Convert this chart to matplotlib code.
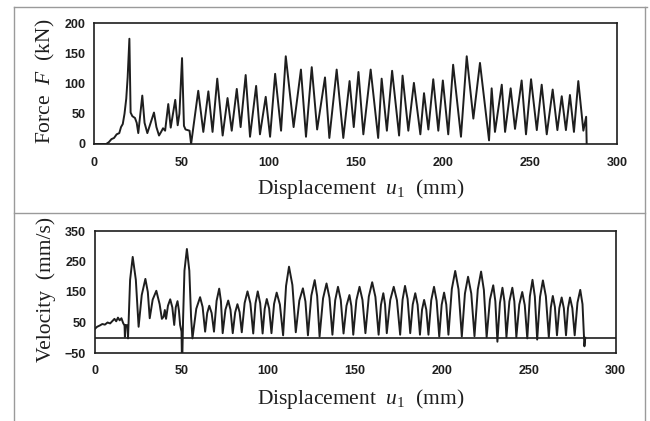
import matplotlib
matplotlib.use("Agg")
import matplotlib.pyplot as plt
from matplotlib.lines import Line2D

plt.rcParams['mathtext.fontset'] = 'custom'
plt.rcParams['mathtext.rm'] = 'Liberation Serif'
plt.rcParams['mathtext.it'] = 'Liberation Serif:italic'

# force history (displacement mm, force kN)
force_u = [0, 7, 8.5, 10, 11.5, 13, 14.5, 15.5, 16.5, 17.5, 18.5, 19.3, 20.3, 21.0,
           22.0, 23.5, 24.5, 25.4, 27.7, 29.0, 30.6, 32.5, 34.4, 35.8, 37.3, 38.5,
           39.6, 40.8, 42.6, 44.0, 46.6, 48.0, 49.0, 50.5, 51.6, 52.5, 54.8, 55.7,
           59.8, 62.7, 65.6, 68.0, 70.7, 73.8, 76.6, 79.0, 81.9, 84.1, 87.0, 89.5,
           93.0, 95.2, 98.5, 101.0, 103.9, 107.3, 110.0, 114.5, 118.7, 121.6, 124.9,
           128.0, 132.5, 135.0, 139.2, 143.0, 146.6, 149.0, 151.7, 154.5, 158.7,
           163.0, 165.0, 168.0, 171.0, 175.0, 177.0, 180.3, 183.5, 187.2, 189.3,
           191.8, 194.6, 197.5, 200.1, 203.2, 206.0, 210.5, 213.8, 217.6, 221.4,
           226.6, 228.1, 230.0, 233.9, 235.8, 239.0, 241.5, 245.3, 247.8, 250.7,
           254.0, 256.8, 259.7, 263.1, 265.8, 268.3, 270.7, 273.0, 275.3, 277.8,
           280.7, 282.3, 282.6]
force_kn = [0, 0, 3, 8, 10, 16, 18, 28, 33, 50, 75, 110, 174, 52,
            46, 43, 35, 18, 80, 35, 18, 35, 52, 28, 14, 20,
            26, 22, 66, 27, 73, 31, 50, 142, 30, 24, 22, 0,
            88, 20, 87, 20, 108, 14, 76, 22, 91, 28, 114, 12,
            96, 16, 78, 12, 116, 22, 145, 28, 123, 12, 127,
            24, 110, 10, 123, 10, 104, 28, 119, 16, 123,
            10, 108, 22, 121, 14, 113, 22, 101, 16, 84,
            24, 107, 22, 105, 16, 131, 12, 145, 42, 134,
            6, 92, 20, 98, 20, 92, 25, 105, 16, 107,
            23, 98, 16, 90, 23, 79, 23, 81, 20, 104,
            22, 45, 0]

# velocity history (displacement mm, velocity mm/s)
vel_u = [0, 1.5, 3, 4.5, 6, 7.5, 9, 10.5, 11.5, 12.5, 13.5, 14.5, 15.5, 16.5, 17.3,
         17.5, 18.0, 19.0, 19.3, 20.5, 22.0, 23.8, 25.4, 27.2, 29.3, 30.7, 31.8,
         33.5, 35.6, 37.5, 38.8, 39.8, 40.5, 41.2, 42.3, 43.6, 44.8, 45.9, 46.8,
         47.8, 48.6, 49.3, 50.1, 50.3, 50.6, 51.0, 51.8, 53.2, 54.6, 55.6, 56.4,
         58.6, 60.8, 62.25, 63.7, 64.9, 66.1, 67.45, 68.8, 70.3, 71.8, 72.8, 73.8,
         75.4, 77.0, 78.3, 79.6, 81.0, 82.3, 83.55, 84.8, 86.45, 88.1, 89.75, 91.4,
         92.7, 94.0, 95.4, 96.8, 98.0, 99.2, 100.55, 101.9, 103.4, 104.9, 106.75,
         108.6, 110.3, 112.0, 113.95, 115.9, 117.95, 120.0, 121.45, 122.9, 124.85,
         126.8, 128.2, 129.6, 131.6, 133.6, 135.3, 137.0, 138.6, 140.2, 141.8, 143.4,
         145.1, 146.8, 147.9, 149.0, 150.8, 152.6, 154.3, 156.0, 157.95, 159.9,
         161.75, 163.6, 164.95, 166.3, 167.3, 168.3, 170.3, 172.3, 174.15, 176.0,
         177.4, 178.8, 180.3, 181.8, 183.25, 184.7, 186.05, 187.4, 188.6, 189.8,
         191.05, 192.3, 193.9, 195.5, 197.0, 198.5, 199.9, 201.3, 202.55, 203.8,
         205.75, 207.7, 209.6, 211.5, 213.3, 215.1, 216.95, 218.8, 220.7, 222.6,
         224.2, 225.8, 227.7, 229.6, 230.8, 232.0, 233.45, 234.9, 236.05, 237.2,
         238.9, 240.6, 241.75, 242.9, 244.6, 246.3, 247.75, 249.2, 250.7, 252.2,
         253.55, 254.9, 256.55, 258.2, 259.9, 261.6, 262.75, 263.9, 265.1, 266.3,
         267.65, 269.0, 270.25, 271.5, 272.65, 273.8, 275.15, 276.5, 278.1, 279.7,
         281.0, 281.8, 282.1, 282.6]
vel_mms = [28, 36, 40, 45, 43, 50, 47, 56, 62, 54, 66, 57, 64, 48, 40,
           3, 42, 40, -2, 190, 265, 190, 36, 140, 193, 150, 64,
           125, 154, 110, 62, 69, 91, 62, 105, 126, 100, 42, 100,
           120, 90, 42, 20, -55, -55, 60, 220, 291, 220, 69, -2,
           95, 133, 101, 20, 81, 105, 81, 20, 121, 161, 120, 15,
           92, 122, 92, 15, 83, 110, 84, 18, 114, 152, 113, 14,
           113, 152, 113, 14, 95, 127, 96, 15, 111, 148, 109,
           8, 170, 233, 173, 18, 122, 162, 119, 8, 138,
           189, 137, 4, 129, 178, 131, 10, 123, 167, 124, 14,
           105, 140, 104, 10, 123, 167, 124, 15, 135, 182,
           134, 10, 108, 146, 109, 15, 124, 167, 123, 10,
           125, 170, 127, 15, 109, 146, 108, 10, 92, 124,
           92, 10, 123, 167, 121, 4, 108, 148, 109, 10,
           160, 219, 159, 4, 145, 200, 145, 5, 158, 217,
           157, 2, 125, 172, 120, -13, 114, 164, 119, 2,
           119, 164, 119, 2, 109, 150, 107, -2, 136, 190,
           135, -6, 134, 188, 136, 2, 99, 137, 101, 8,
           97, 132, 97, 8, 97, 132, 97, 8, 115, 157,
           110, 10, -28, 0]

x_ticks = [0, 50, 100, 150, 200, 250, 300]
force_ticks = [0, 50, 100, 150, 200]
vel_ticks = [-50, 50, 150, 250, 350]

W, H = 650, 421
fig = plt.figure(figsize=(6.5, 4.21), dpi=100)

ink = '#1e1e1e'
label_font = dict(family='Liberation Serif', size=15.5, color=ink)


def style(ax, yticks):
    ax.set_xlim(0, 300)
    ax.set_xticks(x_ticks)
    ax.set_yticks(yticks)
    ax.set_ylim(yticks[0], yticks[-1])
    ax.tick_params(length=0, pad=6, labelsize=9, colors=ink)
    ax.tick_params(axis='x', pad=9)
    for lab in ax.get_xticklabels() + ax.get_yticklabels():
        lab.set_fontfamily('Liberation Sans')
        lab.set_fontweight('bold')
    for s in ax.spines.values():
        s.set_linewidth(1.2)
        s.set_color(ink)


# top panel: force
ax1 = fig.add_axes([94 / W, 1 - 144 / H, 523 / W, 121 / H])
ax1.plot(force_u, force_kn, color=ink, lw=1.4)
style(ax1, force_ticks)
ax1.set_xlabel(r'Displacement  $u_{\mathrm{1}}$  (mm)', **label_font)
ax1.set_ylabel(r'Force  $F$  (kN)', va='center', **label_font)
ax1.xaxis.set_label_coords(0.51, -0.27)
ax1.yaxis.set_label_coords(-0.092, 0.52)

# bottom panel: velocity
ax2 = fig.add_axes([94.5 / W, 1 - 353 / H, 521 / W, 122 / H])
ax2.plot(vel_u, vel_mms, color=ink, lw=1.4)
ax2.axhline(0, color=ink, lw=1.2)
style(ax2, vel_ticks)
ax2.set_xlabel(r'Displacement  $u_{\mathrm{1}}$  (mm)', **label_font)
ax2.set_ylabel('Velocity  (mm/s)', va='center', **label_font)
ax2.xaxis.set_label_coords(0.51, -0.28)
ax2.yaxis.set_label_coords(-0.092, 0.52)

# page frame lines of the scanned figure
frame = '#9a9a9a'
fig.add_artist(Line2D([14 / W, 647 / W], [1 - 7 / H, 1 - 7 / H], color=frame, lw=1.0))
fig.add_artist(Line2D([14 / W, 14 / W], [0, 1 - 7 / H], color=frame, lw=1.0))
fig.add_artist(Line2D([645 / W, 645 / W], [0, 1 - 7 / H], color=frame, lw=1.0))
fig.add_artist(Line2D([14 / W, 645 / W], [1 - 213 / H, 1 - 213 / H], color=frame, lw=1.0))

fig.savefig('out.png', dpi=100)
